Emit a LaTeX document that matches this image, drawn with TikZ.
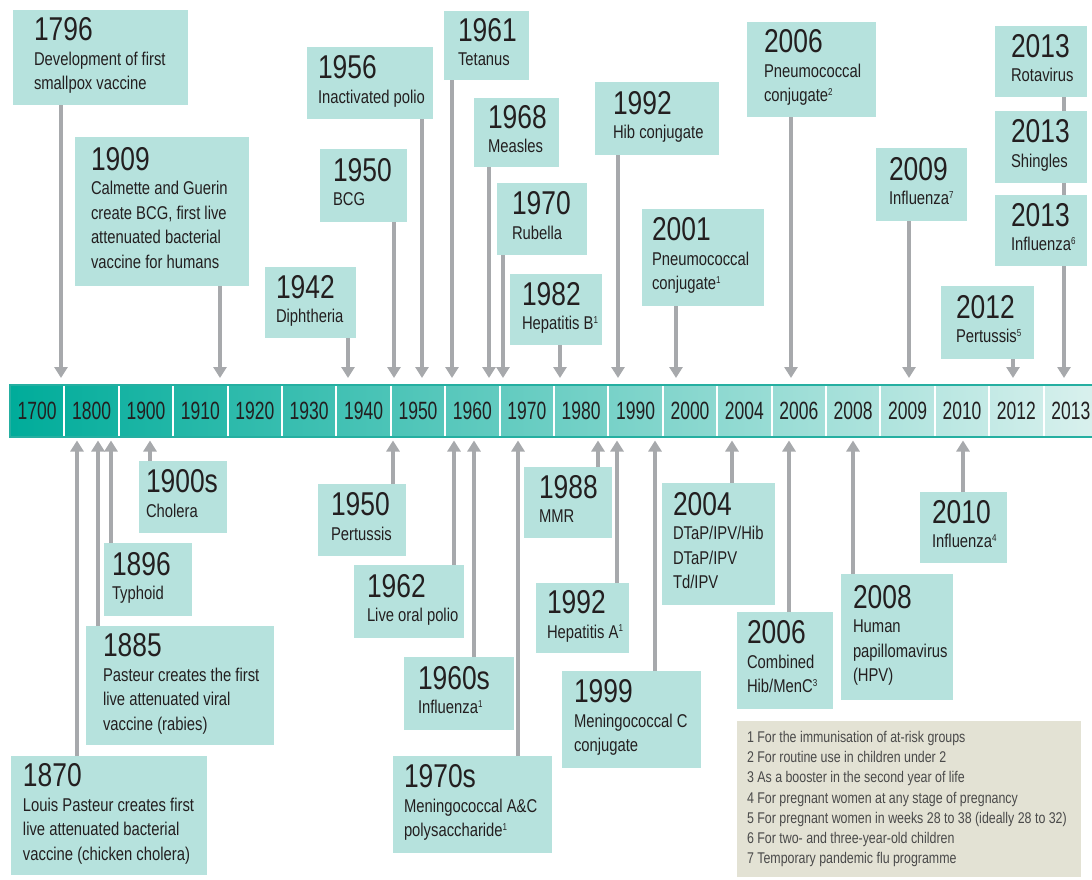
\documentclass[tikz,border=0pt]{standalone}
\usepackage{fontspec}
\setmainfont{Liberation Sans}[FakeStretch=0.8]
\newfontfamily\cellfont{Liberation Sans}[FakeStretch=0.7]
\usetikzlibrary{arrows.meta}

\definecolor{boxfill}{HTML}{B6E2DD}
\definecolor{notefill}{HTML}{E3E2D4}
\definecolor{arrowgrey}{HTML}{A7A9AC}
\definecolor{inkdark}{HTML}{231F20}
\definecolor{notetext}{HTML}{4A4A4A}
\definecolor{barleft}{HTML}{00AC9A}
\definecolor{barright}{HTML}{DAF1EE}
\definecolor{baredge}{HTML}{25AFA1}

\newcommand{\yearnum}[1]{{\fontsize{33}{24.5}\selectfont #1}}
\newcommand{\fn}[1]{\raisebox{6.5pt}{\fontsize{10}{10}\selectfont #1}}
% name, left, top, right, bottom, padding, text
\newcommand{\vacc}[7]{%
  \pgfmathsetmacro\vaccw{#4-#2-2*#6}%
  \pgfmathsetmacro\vacch{#5-#3}%
  \node[vaccbox, inner xsep=#6pt, minimum height=\vacch pt, anchor=north west]
    (#1) at (#2,#3) {\makebox[\vaccw pt][l]{\begin{tabular}{@{}l@{}}#7\end{tabular}}};}

\begin{document}
\begin{tikzpicture}[x=1pt, y=-1pt,
    vaccbox/.style  = {fill=boxfill, text=inkdark, inner ysep=0pt, outer sep=0pt,
                       font=\fontsize{18.5}{24.5}\selectfont},
    notebox/.style  = {fill=notefill, text=notetext, inner ysep=0pt, outer sep=0pt,
                       font=\fontsize{15.5}{20.3}\selectfont},
    timeline/.style = {draw=baredge, line width=1.5pt, outer sep=0pt,
                       left color=barleft, right color=barright},
    cell/.style     = {text=inkdark, font=\cellfont\fontsize{25}{25}\selectfont},
    arr/.style      = {draw=arrowgrey, line width=3.5pt, -{Triangle[width=13pt,length=11pt]}},
    down/.style     = {arr, shorten >=7pt},
    up/.style       = {arr, shorten >=3.5pt},
    link/.style     = {draw=arrowgrey, line width=3.5pt}]
  \useasboundingbox (0,0) rectangle (1092,879);

  % the time line
  \node[timeline, anchor=north west, minimum width=1090pt, minimum height=52pt] (timeline) at (10,385) {};
  \foreach \i in {1,...,19}
    \draw[white, line width=2pt] ({10+54.4*\i},386) -- ({10+54.4*\i},436);
  \foreach \lbl [count=\i from 0] in {1700,1800,1900,1910,1920,1930,1940,1950,1960,1970,
                                      1980,1990,2000,2004,2006,2008,2009,2010,2012,2013}
    \node[cell] (c\i) at ({37.2+54.4*\i},411) {\lbl};

  % above the line
  \vacc{smallpox}{13}{10}{188}{105}{21}{\yearnum{1796}\\Development of first\\smallpox vaccine}
  \vacc{calmette}{75}{137}{249}{286}{16}{\yearnum{1909}\\Calmette and Guerin\\create BCG, first live\\attenuated bacterial\\vaccine for humans}
  \vacc{diphtheria}{265}{267}{356}{338}{11}{\yearnum{1942}\\Diphtheria}
  \vacc{bcg}{320}{149}{407}{222}{13}{\yearnum{1950}\\BCG}
  \vacc{ipv}{307}{47}{433}{119}{11}{\yearnum{1956}\\Inactivated polio}
  \vacc{tetanus}{444}{11}{529}{80}{14}{\yearnum{1961}\\Tetanus}
  \vacc{measles}{474}{98}{559}{167}{14}{\yearnum{1968}\\Measles}
  \vacc{rubella}{497}{183}{587}{255}{15}{\yearnum{1970}\\Rubella}
  \vacc{hepb}{510}{274}{602}{345}{12}{\yearnum{1982}\\Hepatitis B\fn{1}}
  \vacc{hib}{595}{82}{719}{155}{18}{\yearnum{1992}\\Hib conjugate}
  \vacc{pcvrisk}{642}{209}{764}{306}{10}{\yearnum{2001}\\Pneumococcal\\conjugate\fn{1}}
  \vacc{pcvchild}{747}{22}{876}{117}{17}{\yearnum{2006}\\Pneumococcal\\conjugate\fn{2}}
  \vacc{flupandemic}{876}{148}{967}{221}{13}{\yearnum{2009}\\Influenza\fn{7}}
  \vacc{pertussismat}{941}{286}{1034}{359}{15}{\yearnum{2012}\\Pertussis\fn{5}}
  \vacc{rota}{995}{26}{1087}{97}{16}{\yearnum{2013}\\Rotavirus}
  \vacc{shingles}{995}{111}{1087}{183}{16}{\yearnum{2013}\\Shingles}
  \vacc{fluchild}{995}{195}{1087}{266}{16}{\yearnum{2013}\\Influenza\fn{6}}

  % below the line
  \vacc{cholera}{139}{461}{227}{533}{7}{\yearnum{1900s}\\Cholera}
  \vacc{typhoid}{104}{543}{192}{616}{8}{\yearnum{1896}\\Typhoid}
  \vacc{rabies}{86}{626}{274}{745}{17}{\yearnum{1885}\\Pasteur creates the first\\live attenuated viral\\vaccine (rabies)}
  \vacc{chicken}{11}{756}{207}{875}{12}{\yearnum{1870}\\Louis Pasteur creates first\\live attenuated bacterial\\vaccine (chicken cholera)}
  \vacc{pertussis}{318}{484}{406}{556}{13}{\yearnum{1950}\\Pertussis}
  \vacc{opv}{354}{565}{464}{638}{13}{\yearnum{1962}\\Live oral polio}
  \vacc{flurisk}{404}{657}{514}{730}{14}{\yearnum{1960s}\\Influenza\fn{1}}
  \vacc{menac}{393}{756}{552}{853}{11}{\yearnum{1970s}\\Meningococcal A\&C\\polysaccharide\fn{1}}
  \vacc{mmr}{524}{467}{612}{538}{15}{\yearnum{1988}\\MMR}
  \vacc{hepa}{536}{583}{629}{653}{11}{\yearnum{1992}\\Hepatitis A\fn{1}}
  \vacc{menc}{562}{671}{701}{768}{12}{\yearnum{1999}\\Meningococcal C\\conjugate}
  \vacc{dtap}{662}{483}{775}{605}{11}{\yearnum{2004}\\DTaP/IPV/Hib\\DTaP/IPV\\Td/IPV}
  \vacc{hibmenc}{737}{612}{833}{709}{10}{\yearnum{2006}\\Combined\\Hib/MenC\fn{3}}
  \vacc{hpv}{841}{574}{953}{700}{12}{\yearnum{2008}\\Human\\papillomavirus\\(HPV)}
  \vacc{flupreg}{920}{492}{1007}{563}{12}{\yearnum{2010}\\Influenza\fn{4}}

  % arrows down to the line
  \draw[down] (smallpox.south -| 61,0)      -- (timeline.north -| 61,0);
  \draw[down] (calmette.south -| 220,0)     -- (timeline.north -| 220,0);
  \draw[down] (diphtheria.south -| 348,0)   -- (timeline.north -| 348,0);
  \draw[down] (bcg.south -| 394,0)          -- (timeline.north -| 394,0);
  \draw[down] (ipv.south -| 422,0)          -- (timeline.north -| 422,0);
  \draw[down] (tetanus.south -| 452,0)      -- (timeline.north -| 452,0);
  \draw[down] (measles.south -| 489,0)      -- (timeline.north -| 489,0);
  \draw[down] (rubella.south -| 503,0)      -- (timeline.north -| 503,0);
  \draw[down] (hepb.south -| 560,0)         -- (timeline.north -| 560,0);
  \draw[down] (hib.south -| 618,0)          -- (timeline.north -| 618,0);
  \draw[down] (pcvrisk.south -| 676,0)      -- (timeline.north -| 676,0);
  \draw[down] (pcvchild.south -| 791,0)     -- (timeline.north -| 791,0);
  \draw[down] (flupandemic.south -| 909,0)  -- (timeline.north -| 909,0);
  \draw[down] (pertussismat.south -| 1013,0) -- (timeline.north -| 1013,0);
  \draw[link] (rota.south -| 1064,0)        -- (shingles.north -| 1064,0);
  \draw[link] (shingles.south -| 1064,0)    -- (fluchild.north -| 1064,0);
  \draw[down] (fluchild.south -| 1064,0)    -- (timeline.north -| 1064,0);

  % arrows up to the line
  \draw[up] (cholera.north -| 150,0)   -- (timeline.south -| 150,0);
  \draw[up] (typhoid.north -| 111,0)   -- (timeline.south -| 111,0);
  \draw[up] (rabies.north -| 98,0)     -- (timeline.south -| 98,0);
  \draw[up] (chicken.north -| 77,0)    -- (timeline.south -| 77,0);
  \draw[up] (pertussis.north -| 393,0) -- (timeline.south -| 393,0);
  \draw[up] (opv.north -| 454,0)       -- (timeline.south -| 454,0);
  \draw[up] (flurisk.north -| 474,0)   -- (timeline.south -| 474,0);
  \draw[up] (menac.north -| 518,0)     -- (timeline.south -| 518,0);
  \draw[up] (mmr.north -| 598,0)       -- (timeline.south -| 598,0);
  \draw[up] (hepa.north -| 617,0)      -- (timeline.south -| 617,0);
  \draw[up] (menc.north -| 655,0)      -- (timeline.south -| 655,0);
  \draw[up] (dtap.north -| 732,0)      -- (timeline.south -| 732,0);
  \draw[up] (hibmenc.north -| 789,0)   -- (timeline.south -| 789,0);
  \draw[up] (hpv.north -| 853,0)       -- (timeline.south -| 853,0);
  \draw[up] (flupreg.north -| 963,0)   -- (timeline.south -| 963,0);

  % footnotes
  \node[notebox, inner xsep=10pt, minimum height=156pt, anchor=north west] (notes) at (737,721)
    {\makebox[324pt][l]{\begin{tabular}{@{}l@{}}
      1 For the immunisation of at-risk groups\\
      2 For routine use in children under 2\\
      3 As a booster in the second year of life\\
      4 For pregnant women at any stage of pregnancy\\
      5 For pregnant women in weeks 28 to 38 (ideally 28 to 32)\\
      6 For two- and three-year-old children\\
      7 Temporary pandemic flu programme
    \end{tabular}}};
\end{tikzpicture}
\end{document}
